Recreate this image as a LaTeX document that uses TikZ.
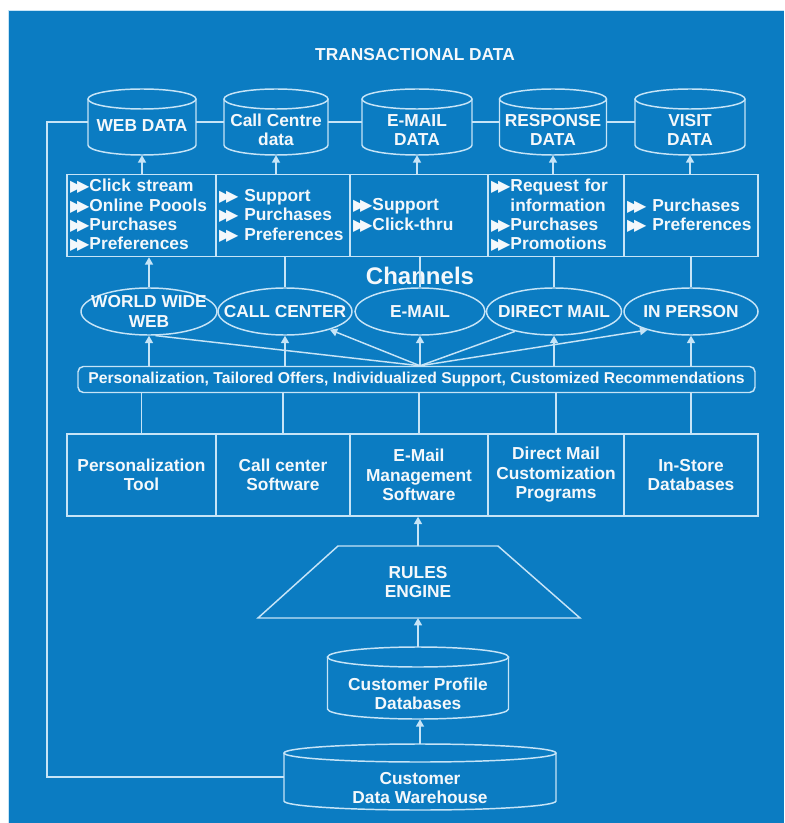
\documentclass[tikz,border=0pt]{standalone}
\usepackage{fontspec}
\setmainfont{Liberation Sans}
\newfontfamily\symfont{DejaVu Sans}
\usepackage{xcolor}
\usetikzlibrary{shapes.geometric,arrows.meta,calc}
\definecolor{bluebg}{HTML}{0B7CC2}
\definecolor{linec}{HTML}{C6E4F7}
\definecolor{textc}{HTML}{F4F8FB}
\newcommand{\bul}{{\symfont\fontsize{12}{12}\selectfont\char"25B6\kern-0.32em\char"25B6}}
\newcommand{\px}{0.75pt}
% drum: name, centre x, centre y, width, height, cap radius (all in px)
\newcommand{\dbdrum}[6]{%
  \node[dbbox, minimum width=#4*\px, minimum height=#5*\px] (#1) at (#2,#3) {};
  \draw[wire] (#2,{#3-#5/2+#6}) ellipse [x radius=#4/2, y radius=#6];
  \draw[wire] ({#2-#4/2},{#3-#5/2+#6}) -- ({#2-#4/2},{#3+#5/2-#6})
    arc[start angle=180, end angle=0, x radius=#4/2, y radius=#6] -- ({#2+#4/2},{#3-#5/2+#6});
}
\tikzset{
  wire/.style={draw=linec, line width=1.1pt},
  arr/.style={wire, -{Triangle[width=6pt,length=5.5pt]}},
  lab/.style={text=textc, font=\bfseries\fontsize{13}{14.6}\selectfont, align=center, inner sep=0pt},
  dbbox/.style={rectangle, inner sep=0pt},
  chan/.style={ellipse, draw=linec, line width=1.1pt, inner sep=0pt, minimum width=134*\px, minimum height=47*\px},
  cell/.style={lab, rectangle, draw=linec, line width=1.1pt, minimum height=82*\px},
  listcell/.style={cell, align=left, inner xsep=3*\px},
}

\begin{document}
\begin{tikzpicture}[x=0.75pt, y=-0.75pt]
  % page and frame
  \fill[white] (0,0) rectangle (784,823);
  \useasboundingbox (0,0) rectangle (784,823);
  \fill[bluebg] (8,10) rectangle (784,823);
  \draw[linec, line width=0.8pt] (8.5,823) -- (8.5,10.5) -- (784,10.5);

  \node[lab] (title) at (415,55) {TRANSACTIONAL DATA};

  % transactional data stores
  \dbdrum{web}{142}{122}{108}{66}{10}
  \dbdrum{callc}{276}{122}{104}{66}{10}
  \dbdrum{maild}{417}{122}{110}{66}{10}
  \dbdrum{resp}{553}{122}{107}{66}{10}
  \dbdrum{visit}{690}{122}{110}{66}{10}
  \node[lab] at (142,126) {WEB DATA};
  \node[lab] at (276,130) {Call Centre\\data};
  \node[lab] at (417,130) {E-MAIL\\DATA};
  \node[lab] at (553,130) {RESPONSE\\DATA};
  \node[lab] at (690,130) {VISIT\\DATA};
  \draw[wire] (web) -- (callc);
  \draw[wire] (callc) -- (maild);
  \draw[wire] (maild) -- (resp);
  \draw[wire] (resp) -- (visit);

  % collected items
  \node[listcell, minimum width=149*\px, text width=107.25pt] (click) at (141.5,215.5)
    {\bul Click stream\\ \bul Online Poools\\ \bul Purchases\\ \bul Preferences};
  \node[listcell, minimum width=134*\px, text width=96pt] (supl) at (283,215.5)
    {\bul\ Support\\ \bul\ Purchases\\ \bul\ Preferences};
  \node[listcell, minimum width=138*\px, text width=99pt] (mailc) at (419,215.5)
    {\bul Support\\ \bul Click-thru};
  \node[listcell, minimum width=136*\px, text width=97.5pt] (resc) at (556,215.5)
    {\bul Request for\\ \phantom{\bul}information\\ \bul Purchases\\ \bul Promotions};
  \node[listcell, minimum width=134*\px, text width=96pt] (visc) at (691,215.5)
    {\bul\ Purchases\\ \bul\ Preferences};
  \draw[arr] (web |- click.north) -- (web.south);
  \draw[arr] (callc |- supl.north) -- (callc.south);
  \draw[arr] (maild |- mailc.north) -- (maild.south);
  \draw[arr] (resp |- resc.north) -- (resp.south);
  \draw[arr] (visit |- visc.north) -- (visit.south);

  % channels
  \node[lab, font=\bfseries\fontsize{18}{20}\selectfont] (chlab) at (420,276) {Channels};
  \node[chan, minimum width=136*\px] (www) at (149,311.5) {};
  \node[chan] (callch) at (285,311.5) {};
  \node[chan, minimum width=130*\px] (mailch) at (420,311.5) {};
  \node[chan, minimum width=135*\px] (dirch) at (554,311.5) {};
  \node[chan] (persch) at (691,311.5) {};
  \node[lab] at (www) {WORLD WIDE\\WEB};
  \node[lab] at (callch) {CALL CENTER};
  \node[lab] at (mailch) {E-MAIL};
  \node[lab] at (dirch) {DIRECT MAIL};
  \node[lab] at (persch) {IN PERSON};
  \draw[arr] (www.north) -- (www.north |- click.south);
  \draw[wire] (callch.north) -- (callch.north |- supl.south);
  \draw[wire] (mailch.north) -- (mailch.north |- mailc.south);
  \draw[wire] (dirch.north) -- (dirch.north |- resc.south);
  \draw[wire] (persch.north) -- (persch.north |- visc.south);

  % personalization bar
  \node[lab, draw=linec, line width=1.1pt, rounded corners=4pt, minimum width=677*\px, minimum height=26*\px,
        font=\bfseries\fontsize{11.8}{13}\selectfont] (bar) at (416.5,379.5)
    {Personalization, Tailored Offers, Individualized Support, Customized Recommendations};
  \coordinate (hub) at (bar.north -| mailch.south);
  \draw[arr] (bar.north -| www.south) -- (www.south);
  \draw[arr] (bar.north -| callch.south) -- (callch.south);
  \draw[arr] (hub) -- (mailch.south);
  \draw[arr] (bar.north -| dirch.south) -- (dirch.south);
  \draw[arr] (bar.north -| persch.south) -- (persch.south);
  \draw[wire] (hub) -- (www.285);
  \draw[arr] (hub) -- (callch.338);
  \draw[wire] (hub) -- (dirch.207);
  \draw[arr] (hub) -- (persch.203);

  % channel software
  \node[cell, minimum width=149*\px] (tool) at (141.5,475) {Personalization\\Tool};
  \node[cell, minimum width=134*\px] (ccsw) at (283,475) {Call center\\Software};
  \node[cell, minimum width=138*\px] (mailsw) at (419,475) {E-Mail\\Management\\Software};
  \node[cell, minimum width=136*\px] (dmsw) at (556,475) {Direct Mail\\Customization\\Programs};
  \node[cell, minimum width=134*\px] (store) at (691,475) {In-Store\\Databases};
  \draw[wire] (tool.north) -- (tool.north |- bar.south);
  \draw[wire] (ccsw.north) -- (ccsw.north |- bar.south);
  \draw[wire] (mailsw.north) -- (mailsw.north |- bar.south);
  \draw[wire] (dmsw.north) -- (dmsw.north |- bar.south);
  \draw[wire] (store.north) -- (store.north |- bar.south);

  % rules engine
  \draw[wire, line join=miter] (338,546) -- (498,546) -- (580,618) -- (258,618) -- cycle;
  \node[lab] (rules) at (418,582) {RULES\\ENGINE};
  \coordinate (rtop) at (418,546);
  \coordinate (rbot) at (418,618);
  \draw[arr] (rtop) -- (rtop |- mailsw.south);

  % customer data
  \dbdrum{prof}{418}{683}{181}{72}{10}
  \node[lab] at (418,694) {Customer Profile\\Databases};
  \dbdrum{wh}{420}{777}{272}{66}{9}
  \node[lab] at (420,788) {Customer\\Data Warehouse};
  \draw[arr] (prof.north) -- (prof.north |- rbot);
  \draw[arr] (wh.north) -- (wh.north |- prof.south);
  \coordinate (loopx) at (47,0);
  \draw[wire] (wh.west) -| (loopx |- web.west) -- (web.west);
\end{tikzpicture}
\end{document}
